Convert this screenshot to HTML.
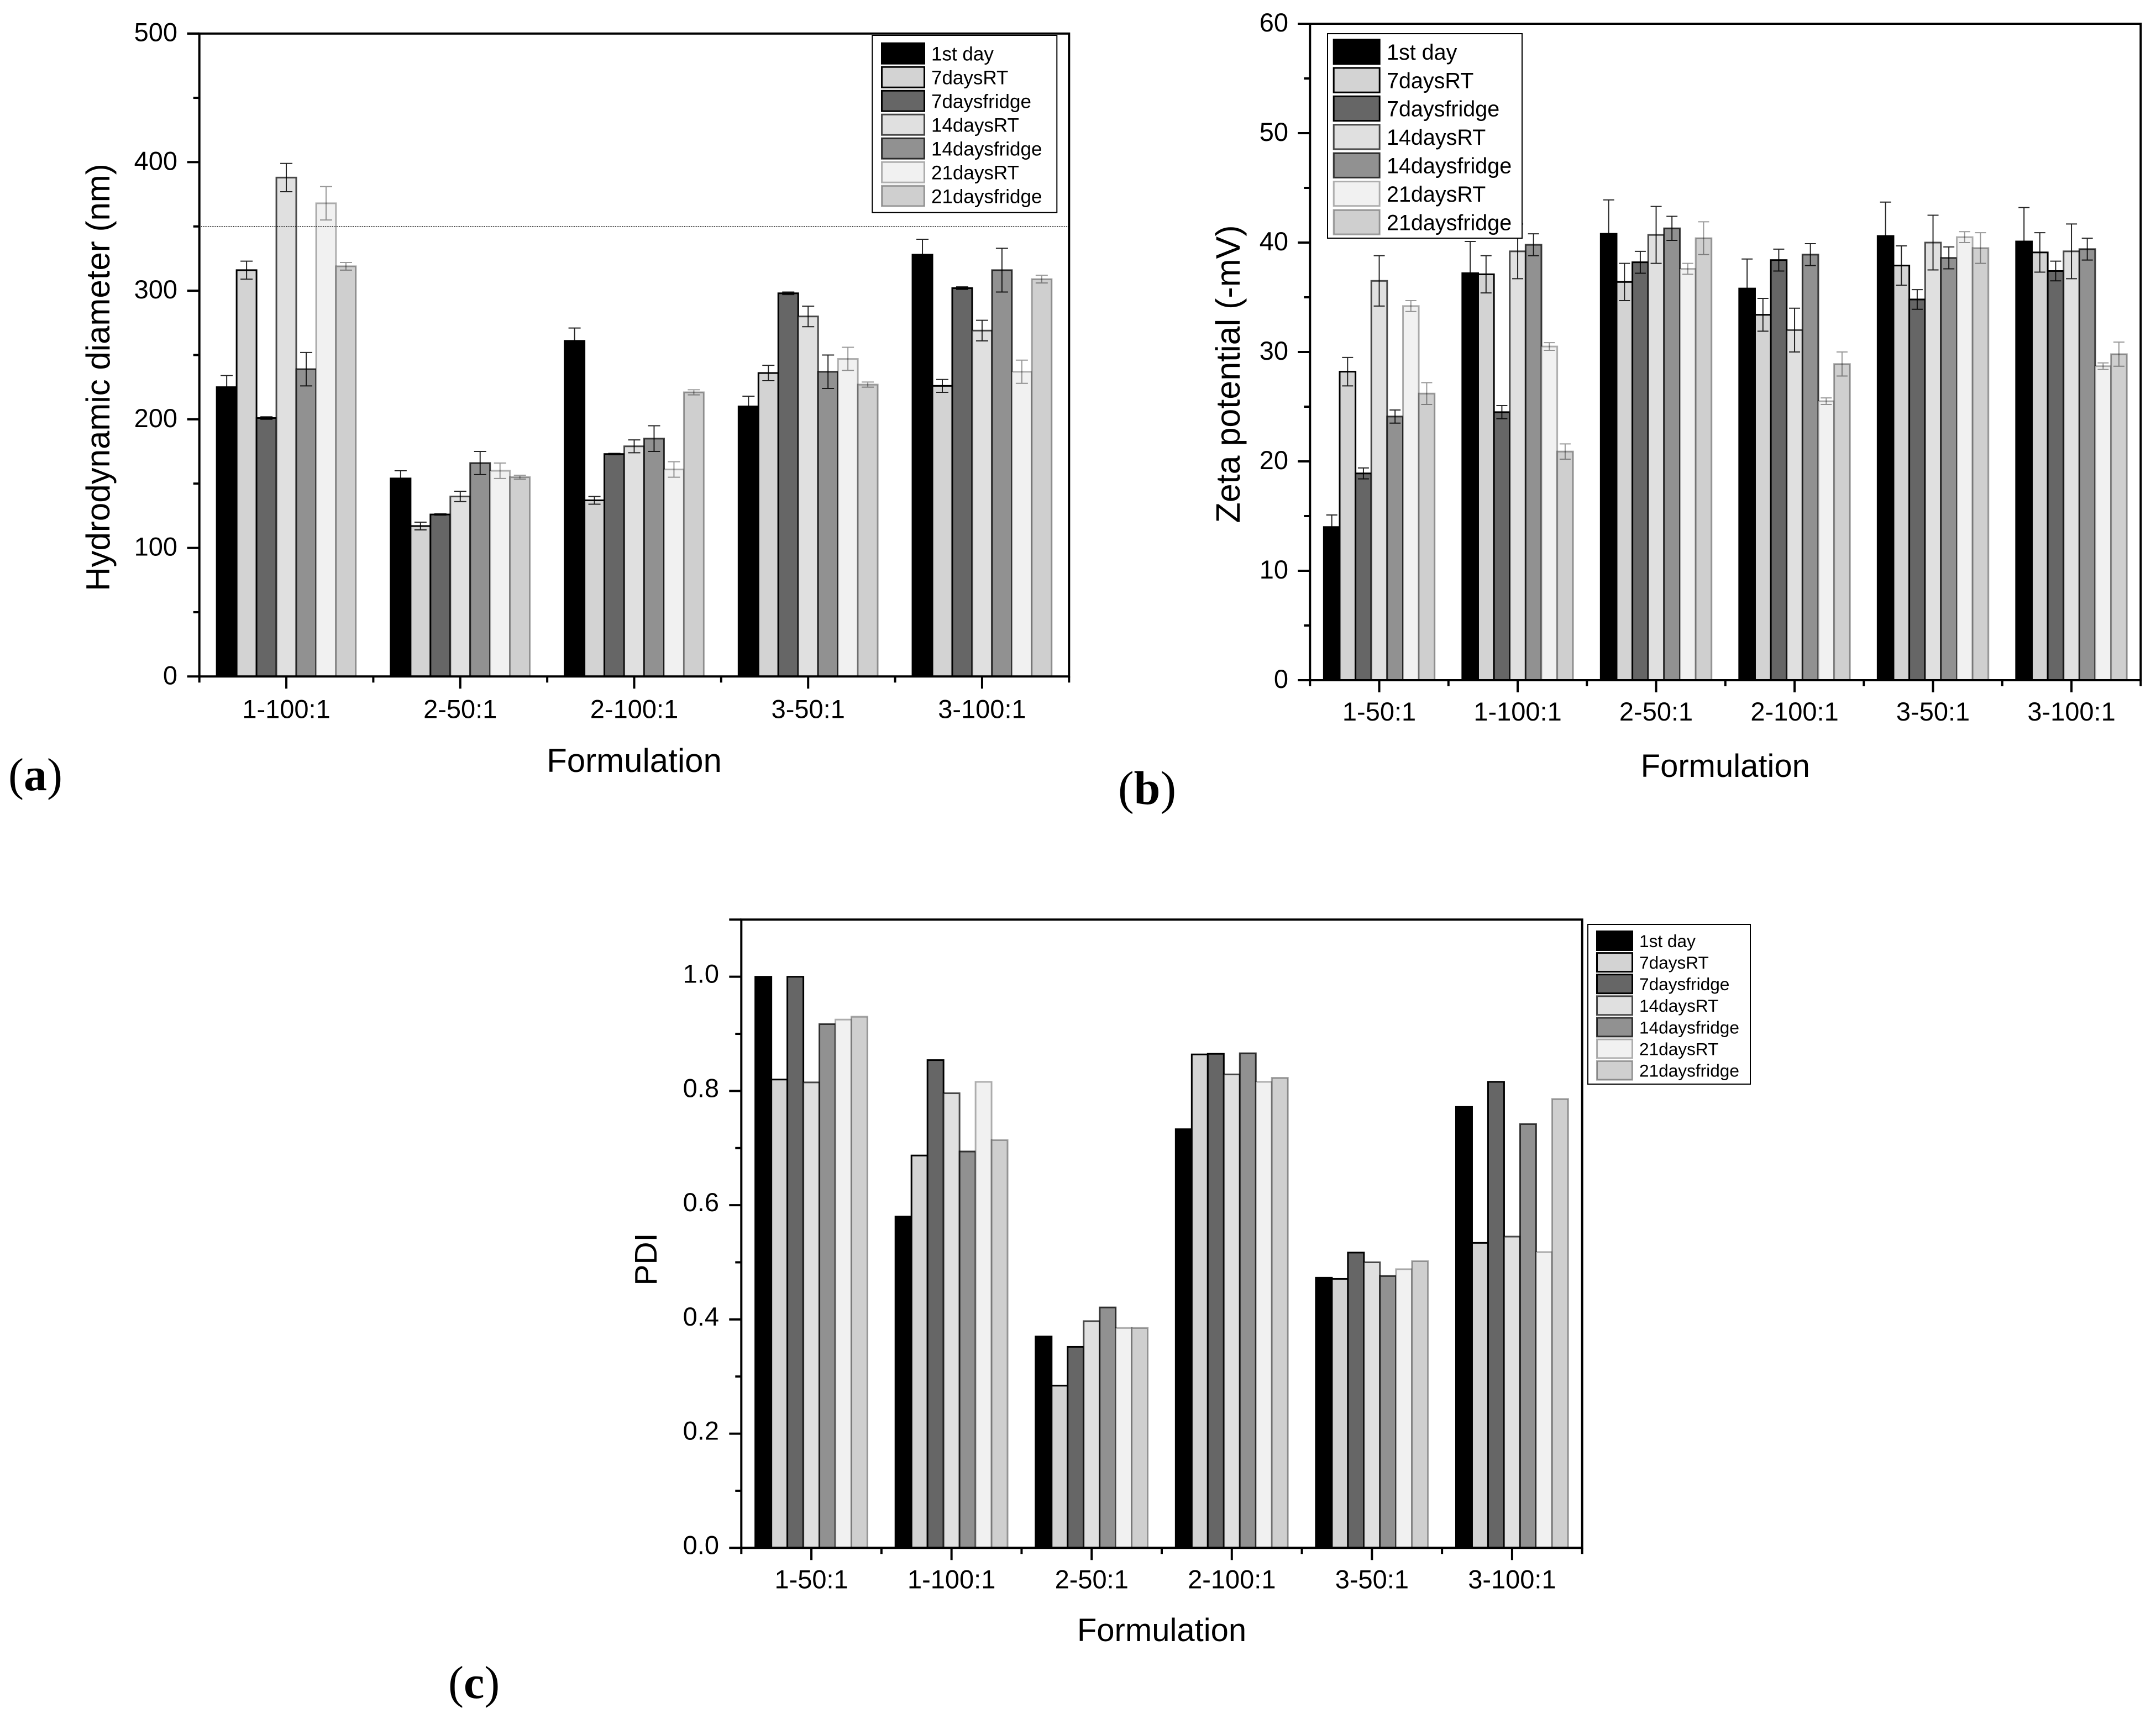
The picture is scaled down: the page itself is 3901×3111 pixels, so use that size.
<!DOCTYPE html>
<html lang="en">
<head>
<meta charset="utf-8">
<title>Formulation stability charts</title>
<style>
html,body{margin:0;padding:0;background:#fff;}
svg{display:block;font-family:"Liberation Sans",Arial,sans-serif;fill:#000;}
.panel{font-family:"Liberation Serif",serif;font-weight:normal;}
.panel tspan{font-weight:bold;}
</style>
</head>
<body>
<svg id="fig" xmlns="http://www.w3.org/2000/svg" width="3901" height="3111" viewBox="0 0 3901 3111">
<rect width="3901" height="3111" fill="#fff"/>
<text class="panel" x="15" y="1430" font-size="84">(<tspan>a</tspan>)</text>
<text class="panel" x="2023" y="1455" font-size="86">(<tspan>b</tspan>)</text>
<text class="panel" x="811" y="3073" font-size="84">(<tspan>c</tspan>)</text>
</svg>
<script>
const seriesNames = ['1st day','7daysRT','7daysfridge','14daysRT','14daysfridge','21daysRT','21daysfridge'];

const aCategories = ['1-100:1','2-50:1','2-100:1','3-50:1','3-100:1'];
const aDay1 = [225,154,261,210,328];
const a7RT = [316,117,137,236,226];
const a7Fridge = [201,126,173,298,302];
const a14RT = [388,140,179,280,269];
const a14Fridge = [239,166,185,237,316];
const a21RT = [368,160,161,247,237];
const a21Fridge = [319,155,221,227,309];
const aDay1Err = [9,6,10,8,12];
const a7RTErr = [7,3,3,6,5];
const a7FridgeErr = [1,0.5,0.5,1,1];
const a14RTErr = [11,4,5,8,8];
const a14FridgeErr = [13,9,10,13,17];
const a21RTErr = [13,6,6,9,9];
const a21FridgeErr = [3,1.5,2,2,3];
const aYTicks = [0,100,200,300,400,500];
const aLimit = [350];

const bCategories = ['1-50:1','1-100:1','2-50:1','2-100:1','3-50:1','3-100:1'];
const bDay1 = [14,37.2,40.8,35.8,40.6,40.1];
const b7RT = [28.2,37.1,36.4,33.4,37.9,39.1];
const b7Fridge = [18.9,24.5,38.2,38.4,34.8,37.4];
const b14RT = [36.5,39.2,40.7,32,40,39.2];
const b14Fridge = [24.1,39.8,41.3,38.9,38.6,39.4];
const b21RT = [34.2,30.5,37.6,25.5,40.5,28.7];
const b21Fridge = [26.2,20.9,40.4,28.9,39.5,29.8];
const bDay1Err = [1.1,2.9,3.1,2.7,3.1,3.1];
const b7RTErr = [1.3,1.7,1.7,1.5,1.8,1.8];
const b7FridgeErr = [0.5,0.6,1,1,0.9,0.9];
const b14RTErr = [2.3,2.5,2.6,2,2.5,2.5];
const b14FridgeErr = [0.6,1,1.1,1,1,1];
const b21RTErr = [0.5,0.35,0.5,0.3,0.5,0.3];
const b21FridgeErr = [1,0.7,1.5,1.1,1.4,1.1];
const bYTicks = [0,10,20,30,40,50,60];

const cCategories = ['1-50:1','1-100:1','2-50:1','2-100:1','3-50:1','3-100:1'];
const cDay1 = [1,0.58,0.37,0.733,0.473,0.772];
const c7RT = [0.82,0.687,0.284,0.864,0.471,0.534];
const c7Fridge = [1,0.854,0.352,0.865,0.517,0.816];
const c14RT = [0.815,0.796,0.397,0.829,0.5,0.545];
const c14Fridge = [0.917,0.694,0.421,0.866,0.476,0.742];
const c21RT = [0.925,0.816,0.385,0.816,0.488,0.518];
const c21Fridge = [0.93,0.714,0.385,0.823,0.502,0.786];
const cYTicks = [0,0.2,0.4,0.6,0.8,1];

const fills = ['#000000','#d3d3d3','#666666','#e0e0e0','#919191','#f1f1f1','#cfcfcf'];
const strokeOpacity = [1,1,1,0.7,0.75,0.3,0.35];
const NS = 'http://www.w3.org/2000/svg';
const fig = document.getElementById('fig');

function make(tag, attrs, parent) {
  const n = document.createElementNS(NS, tag);
  for (const k in attrs) n.setAttribute(k, attrs[k]);
  parent.appendChild(n);
  return n;
}

function drawChart(c) {
  const g = make('g', {}, fig);
  
  
  const yOf = v => c.y0 + (c.yTop - c.y0) * (v - c.yMin) / (c.yMax - c.yMin);
  const band = (c.x1 - c.x0) / c.categories.length;
  const pitch = band * 0.8 / c.series.length;
  const xOf = (cat, s) => c.x0 + band * cat + band * 0.1 + pitch * s;

  c.series.forEach((vals, s) => {
    vals.forEach((v, i) => {
      const bar = make('rect', {x: xOf(i, s), y: yOf(v), width: pitch, height: c.y0 - yOf(v), fill: fills[s], stroke: '#000', 'stroke-width': 3, 'stroke-opacity': strokeOpacity[s]}, g);
      
      
    });
  });

  if (c.errors) {
    c.errors.forEach((errs, s) => {
      errs.forEach((e, i) => {
        const cx = xOf(i, s) + pitch / 2;
        const top = yOf(c.series[s][i] + e);
        const bot = yOf(c.series[s][i] - e);
        const err = make('path', {d: 'M' + cx + ' ' + top + 'V' + bot + 'M' + (cx - c.cap) + ' ' + top + 'H' + (cx + c.cap) + 'M' + (cx - c.cap) + ' ' + bot + 'H' + (cx + c.cap), fill: 'none', stroke: '#000', 'stroke-width': 2, 'stroke-opacity': s === 5 || s === 6 ? 0.4 : 0.85}, g);
        
        
      });
    });
  }

  if (c.limit) {
    c.limit.forEach(v => {
      const lim = make('line', {x1: c.x0, x2: c.x1, y1: yOf(v), y2: yOf(v), stroke: '#222', 'stroke-width': 1.6, 'stroke-dasharray': '1.6 1.6'}, g);
      
      
    });
  }

  const axis = make('path', {d: 'M' + c.x0 + ' ' + c.y0 + 'V' + c.yTop + 'H' + c.x1 + 'V' + c.y0 + 'H' + c.x0, fill: 'none', stroke: '#000', 'stroke-width': 4}, g);
  
  

  c.yTicks.forEach((v, i) => {
    const y = yOf(v);
    const tick = make('line', {x1: c.x0 - 22, x2: c.x0, y1: y, y2: y, stroke: '#000', 'stroke-width': 4}, g);
    
    
    const label = make('text', {x: c.yLabelX, y: y + c.yLabelDy, 'text-anchor': 'end', 'font-size': c.tickFont}, g);
    label.textContent = c.yDigits ? v.toFixed(c.yDigits) : String(v);
    
    
    if (i + 1 < c.yTicks.length) {
      const my = yOf((v + c.yTicks[i + 1]) / 2);
      const minor = make('line', {x1: c.x0 - 11, x2: c.x0, y1: my, y2: my, stroke: '#000', 'stroke-width': 4}, g);
      
      
    }
  });
  const topTick = make('line', {x1: c.x0 - 22, x2: c.x0, y1: c.yTop, y2: c.yTop, stroke: '#000', 'stroke-width': 4}, g);
  
  

  c.categories.forEach((name, i) => {
    const cx = c.x0 + band * (i + 0.5);
    const tick = make('line', {x1: cx, x2: cx, y1: c.y0, y2: c.y0 + 22, stroke: '#000', 'stroke-width': 4}, g);
    
    
    const label = make('text', {x: cx, y: c.y0 + c.xLabelDy, 'text-anchor': 'middle', 'font-size': c.tickFont}, g);
    label.textContent = name;
    
    
  });
  for (let i = 0; i <= c.categories.length; i++) {
    const bx = c.x0 + band * i;
    const minor = make('line', {x1: bx, x2: bx, y1: c.y0, y2: c.y0 + 11, stroke: '#000', 'stroke-width': 4}, g);
    
    
  }

  const xTitle = make('text', {x: (c.x0 + c.x1) / 2, y: c.xTitleY, 'text-anchor': 'middle', 'font-size': c.xTitleFont}, g);
  xTitle.textContent = 'Formulation';
  
  

  const yTitle = make('text', {transform: 'translate(' + c.yTitleX + ',' + c.yTitleY + ') rotate(-90)', 'text-anchor': 'middle', 'font-size': c.yTitleFont}, g);
  yTitle.textContent = c.yTitle;
  
  

  const L = c.legend;
  const lg = make('g', {}, g);
  
  
  const box = make('rect', {x: L.x, y: L.y, width: L.w, height: L.h, fill: '#fff', stroke: '#000', 'stroke-width': 2}, lg);
  
  
  seriesNames.forEach((name, s) => {
    const sy = L.swY + L.step * s;
    const sw = make('rect', {x: L.swX + 1.5, y: sy + 1.5, width: L.swW - 3, height: L.swH - 3, fill: fills[s], stroke: '#000', 'stroke-width': 3, 'stroke-opacity': strokeOpacity[s]}, lg);
    
    
    const t = make('text', {x: L.txtX, y: sy + L.swH / 2 + L.font * 0.36, 'font-size': L.font}, lg);
    t.textContent = name;
    
    
  });
}

drawChart({
  name: 'chart-hydrodynamic-diameter', categories: aCategories,
  series: [aDay1,a7RT,a7Fridge,a14RT,a14Fridge,a21RT,a21Fridge],
  errors: [aDay1Err,a7RTErr,a7FridgeErr,a14RTErr,a14FridgeErr,a21RTErr,a21FridgeErr],
  limit: aLimit, yTicks: aYTicks, yMin: 0, yMax: 500, yDigits: 0,
  x0: 360.7, x1: 1934.3, y0: 1224.3, yTop: 60.7, cap: 11,
  tickFont: 47, yLabelX: 321, yLabelDy: 14, xLabelDy: 75,
  xTitleY: 1397, xTitleFont: 60,
  yTitle: 'Hydrodynamic diameter (nm)', yTitleX: 198, yTitleY: 683, yTitleFont: 60,
  legend: {x: 1578.3, y: 64, w: 334, h: 320.7, swX: 1594, swW: 80, swY: 76.7, swH: 40, step: 43, txtX: 1685, font: 35}
});

drawChart({
  name: 'chart-zeta-potential', categories: bCategories,
  series: [bDay1,b7RT,b7Fridge,b14RT,b14Fridge,b21RT,b21Fridge],
  errors: [bDay1Err,b7RTErr,b7FridgeErr,b14RTErr,b14FridgeErr,b21RTErr,b21FridgeErr],
  yTicks: bYTicks, yMin: 0, yMax: 60, yDigits: 0,
  x0: 2370.3, x1: 3873.3, y0: 1231, yTop: 43, cap: 10,
  tickFont: 47, yLabelX: 2331, yLabelDy: 14, xLabelDy: 73,
  xTitleY: 1406, xTitleFont: 58,
  yTitle: 'Zeta potential (-mV)', yTitleX: 2243, yTitleY: 677, yTitleFont: 61,
  legend: {x: 2402, y: 61, w: 352, h: 370, swX: 2411.7, swW: 86, swY: 70, swH: 47.3, step: 51.4, txtX: 2509, font: 39.5}
});

drawChart({
  name: 'chart-pdi', categories: cCategories,
  series: [cDay1,c7RT,c7Fridge,c14RT,c14Fridge,c21RT,c21Fridge],
  yTicks: cYTicks, yMin: 0, yMax: 1.1, yDigits: 1,
  x0: 1341.3, x1: 2862.7, y0: 2801.3, yTop: 1664.3, cap: 10,
  tickFont: 47, yLabelX: 1301, yLabelDy: 11, xLabelDy: 73,
  xTitleY: 2970, xTitleFont: 58,
  yTitle: 'PDI', yTitleX: 1188, yTitleY: 2279, yTitleFont: 57,
  legend: {x: 2873, y: 1673, w: 294, h: 289, swX: 2888, swW: 67, swY: 1684, swH: 37, step: 39.1, txtX: 2966, font: 31.6}
});
</script>
</body>
</html>
